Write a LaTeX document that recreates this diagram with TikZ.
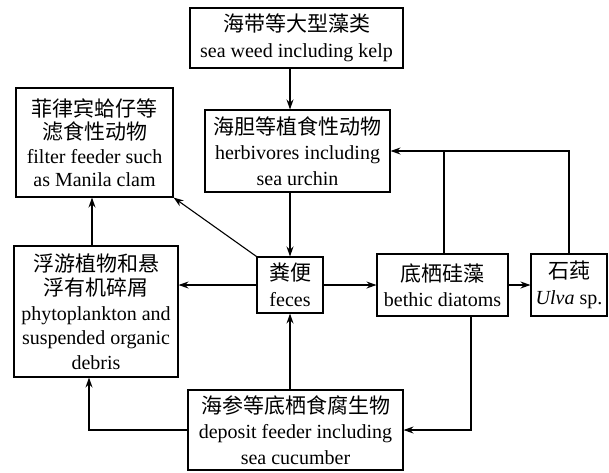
\documentclass[tikz,border=0pt]{standalone}
\usepackage{fontspec}
\setmainfont{Liberation Serif}
\newfontfamily\cjk[Scale=1.05]{Noto Sans CJK SC}
\usetikzlibrary{arrows.meta}
\newcommand\zh[1]{{\cjk #1}}
\begin{document}
\begin{tikzpicture}[x=1pt,y=-1pt,
  box/.style={draw,line width=1.1pt,inner sep=0pt,align=center,
    font=\fontsize{20}{25.5}\selectfont},
  conn/.style={line width=1.1pt},
  arr/.style={conn,-{Stealth[length=10pt,width=7pt]}}]
\useasboundingbox (0,0) rectangle (609,472);
\node[box,minimum width=213pt,minimum height=60pt] (sw) at (296.5,38) {\zh{海带等大型藻类}\\sea weed including kelp};
\node[box,minimum width=185pt,minimum height=82pt] (herb) at (297.5,151) {\zh{海胆等植食性动物}\\herbivores including\\sea urchin};
\node[box,minimum width=157pt,minimum height=109pt,font=\fontsize{20}{23.5}\selectfont] (filt) at (94.5,142.5) {\zh{菲律宾蛤仔等}\\\zh{滤食性动物}\\filter feeder such\\as Manila clam};
\node[box,minimum width=164pt,minimum height=131pt,font=\fontsize{20}{24.5}\selectfont] (phyto) at (96,311.5) {\zh{浮游植物和悬}\\\zh{浮有机碎屑}\\phytoplankton and\\suspended organic\\debris};
\node[box,minimum width=66pt,minimum height=56pt] (feces) at (290,285) {\zh{粪便}\\feces};
\node[box,minimum width=131pt,minimum height=62pt] (diat) at (442.5,285) {\zh{底栖硅藻}\\bethic diatoms};
\node[box,minimum width=76pt,minimum height=62pt] (ulva) at (569,285) {\zh{石莼}\\\textit{Ulva} sp.};
\node[box,minimum width=215pt,minimum height=80pt] (dep) at (295.5,430) {\zh{海参等底栖食腐生物}\\deposit feeder including\\sea cucumber};
\coordinate (c1) at (92,0);
\coordinate (c2) at (89,0);
\coordinate (c3) at (471,0);
\coordinate (c4) at (444,0);
\draw[arr] (sw.south -| feces.north) -- (herb.north -| feces.north);
\draw[arr] (herb.south -| feces.north) -- (feces.north);
\draw[arr] (feces.west) -- (feces.west -| phyto.east);
\draw[arr] (feces.east) -- (diat.west);
\draw[arr] (diat.east) -- (ulva.west);
\draw[arr] (dep.north -| feces.south) -- (feces.south);
\draw[arr] (feces.north west) -- (filt.south east);
\draw[arr] (phyto.north -| c1) -- (filt.south -| c1);
\draw[arr] (dep.west) -| (c2 |- phyto.south);
\draw[arr] (diat.south -| c3) |- (dep.east);
\draw[arr] (ulva.north) |- (herb.east);
\draw[conn] (diat.north -| c4) -- (c4 |- herb.east);
\end{tikzpicture}
\end{document}
